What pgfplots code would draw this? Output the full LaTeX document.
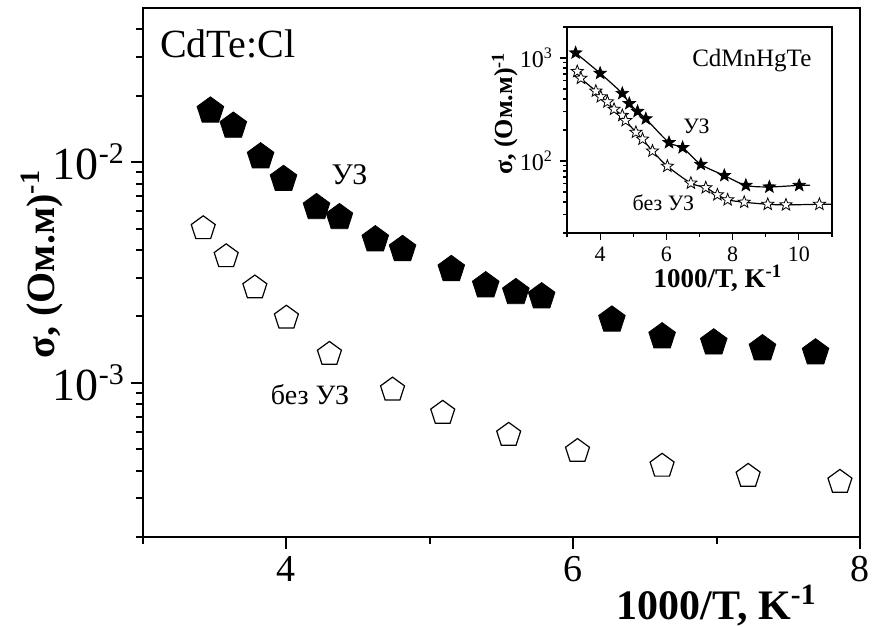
\documentclass[border=0pt]{standalone}
\usepackage{fontspec}
\setmainfont{Liberation Serif}
\usepackage{pgfplots}
\pgfplotsset{compat=1.18}

% five-pointed star mark for the inset
\pgfdeclareplotmark{fivestar}{%
  \pgfpathmoveto{\pgfpointpolar{90}{\pgfplotmarksize}}%
  \pgfpathlineto{\pgfpointpolar{126}{0.42\pgfplotmarksize}}%
  \pgfpathlineto{\pgfpointpolar{162}{\pgfplotmarksize}}%
  \pgfpathlineto{\pgfpointpolar{198}{0.42\pgfplotmarksize}}%
  \pgfpathlineto{\pgfpointpolar{234}{\pgfplotmarksize}}%
  \pgfpathlineto{\pgfpointpolar{270}{0.42\pgfplotmarksize}}%
  \pgfpathlineto{\pgfpointpolar{306}{\pgfplotmarksize}}%
  \pgfpathlineto{\pgfpointpolar{342}{0.42\pgfplotmarksize}}%
  \pgfpathlineto{\pgfpointpolar{18}{\pgfplotmarksize}}%
  \pgfpathlineto{\pgfpointpolar{54}{0.42\pgfplotmarksize}}%
  \pgfpathclose
  \pgfusepathqfillstroke
}

\begin{document}
\begin{tikzpicture}
\begin{axis}[
    width=358.5pt, height=264.5pt, scale only axis,
    clip=false,
    xmin=3, xmax=8, ymin=2e-4, ymax=0.05, ymode=log,
    xtick={4,6,8}, xticklabels={4,6,8}, minor xtick={3,5,7},
    ytick={1e-3,1e-2},
    yticklabels={10\raisebox{0.35em}{\fontsize{15}{17}\selectfont -3},10\raisebox{0.35em}{\fontsize{15}{17}\selectfont -2}},
    minor ytick={2e-4,3e-4,4e-4,5e-4,6e-4,7e-4,8e-4,9e-4,2e-3,3e-3,4e-3,5e-3,6e-3,7e-3,8e-3,9e-3,2e-2,3e-2,4e-2},
    tick align=outside, xtick pos=bottom, ytick pos=left,
    major tick length=6pt, minor tick length=3.5pt,
    every tick/.style={black, line width=1pt},
    axis line style={line width=1.3pt},
    xticklabel style={font=\fontsize{19}{22}\selectfont},
    yticklabel style={font=\fontsize{23}{27}\selectfont},
    xlabel={1000/T, K\textsuperscript{-1}},
    xlabel style={font=\fontsize{21}{24}\selectfont\bfseries, at={(axis description cs:0.80,-0.13)}, anchor=center},
    ylabel={σ, (Ом.м)\textsuperscript{-1}},
    ylabel style={font=\fontsize{20}{24}\selectfont\bfseries, at={(axis description cs:-0.141,0.516)}, anchor=center},
]
% УЗ (filled pentagons)
\addplot[only marks, mark=pentagon*, mark size=7pt, mark options={fill=black, draw=black}] coordinates {
  (3.47,0.0171) (3.63,0.0146) (3.82,0.0106) (3.98,0.00837) (4.21,0.00624)
  (4.37,0.00562) (4.62,0.00446) (4.81,0.00403) (5.15,0.00327) (5.39,0.00276)
  (5.60,0.00257) (5.78,0.00246) (6.27,0.00193) (6.62,0.00162) (6.98,0.00152)
  (7.32,0.00143) (7.69,0.00137)
};
% без УЗ (open pentagons)
\addplot[only marks, mark=pentagon, mark size=6.3pt, mark options={fill=white, draw=black, line width=0.6pt}] coordinates {
  (3.42,0.00501) (3.58,0.00374) (3.78,0.00270) (4.00,0.00197) (4.30,0.00135)
  (4.74,0.00093) (5.09,0.00073) (5.55,0.00058) (6.03,0.00049) (6.62,0.00042)
  (7.22,0.000378) (7.86,0.000355)
};
\node[font=\fontsize{20}{24}\selectfont] at (axis cs:3.59,0.0343) {CdTe:Cl};
\node[font=\fontsize{15}{18}\selectfont] at (axis cs:4.44,0.00882) {УЗ};
\node[font=\fontsize{14}{17}\selectfont] at (axis cs:4.165,0.00088) {без УЗ};
\end{axis}

\begin{axis}[
    at={(212pt,152pt)}, anchor=south west,
    width=132.5pt, height=103pt, scale only axis,
    axis background/.style={fill=white},
    xmin=3, xmax=11, ymin=20, ymax=2000, ymode=log,
    xtick={4,6,8,10}, xticklabels={4,6,8,10}, minor xtick={3,5,7,9,11},
    ytick={100,1000}, yticklabels={10\textsuperscript{2},10\textsuperscript{3}},
    minor ytick={20,30,40,50,60,70,80,90,200,300,400,500,600,700,800,900,2000},
    tick align=outside, xtick pos=bottom, ytick pos=left,
    major tick length=3.5pt, minor tick length=2pt,
    every tick/.style={black, line width=0.6pt},
    axis line style={line width=0.7pt},
    xticklabel style={font=\fontsize{11}{13}\selectfont},
    yticklabel style={font=\fontsize{12}{14}\selectfont},
    xlabel={1000/T, K\textsuperscript{-1}},
    xlabel style={font=\fontsize{13.5}{16}\selectfont\bfseries, at={(axis description cs:0.57,-0.22)}, anchor=center},
    ylabel={σ, (Ом.м)\textsuperscript{-1}},
    ylabel style={font=\fontsize{13}{15}\selectfont\bfseries, at={(axis description cs:-0.234,0.58)}, anchor=center},
]
\addplot[smooth, no marks, line width=0.6pt] coordinates {
  (3.26,1120) (4.0,711) (4.67,453) (4.88,361) (5.13,303) (5.38,257) (6.08,151)
  (6.49,135) (7.04,92.7) (7.75,72.3) (8.40,58) (9.11,56) (10.01,58) (10.34,58)
};
\addplot[smooth, no marks, line width=0.6pt] coordinates {
  (3.31,740) (3.42,636) (3.87,477) (4.02,420) (4.22,375) (4.42,318) (4.67,277)
  (4.77,247) (5.08,190) (5.28,163) (5.58,125) (6.03,89) (6.74,61) (7.19,55)
  (7.54,47) (7.85,42) (8.35,39.8) (9.06,38) (9.61,37.5) (10.62,38) (11,38)
};
\addplot[only marks, mark=fivestar, mark size=3.2pt, mark options={fill=black, draw=black, line width=0.4pt}] coordinates {
  (3.26,1120) (4.0,711) (4.67,453) (4.88,361) (5.13,303) (5.38,257) (6.08,151)
  (6.49,135) (7.04,92.7) (7.75,72.3) (8.40,58) (9.11,56) (10.01,58)
};
\addplot[only marks, mark=fivestar, mark size=3.2pt, mark options={fill=white, draw=black, line width=0.4pt}] coordinates {
  (3.31,740) (3.42,636) (3.87,477) (4.02,420) (4.22,375) (4.42,318) (4.67,277)
  (4.77,247) (5.08,190) (5.28,163) (5.58,125) (6.03,89) (6.74,61) (7.19,55)
  (7.54,47) (7.85,42) (8.35,39.8) (9.06,38) (9.61,37.5) (10.62,38)
};
\node[font=\fontsize{12.5}{15}\selectfont] at (axis cs:8.58,955) {CdMnHgTe};
\node[font=\fontsize{11}{13}\selectfont] at (axis cs:6.91,215) {УЗ};
\node[font=\fontsize{11}{13}\selectfont] at (axis cs:5.91,39.6) {без УЗ};
\end{axis}
\pgfresetboundingbox
\useasboundingbox (-71.5pt,-44.5pt) rectangle (364.5pt,268.5pt);
\end{tikzpicture}
\end{document}
